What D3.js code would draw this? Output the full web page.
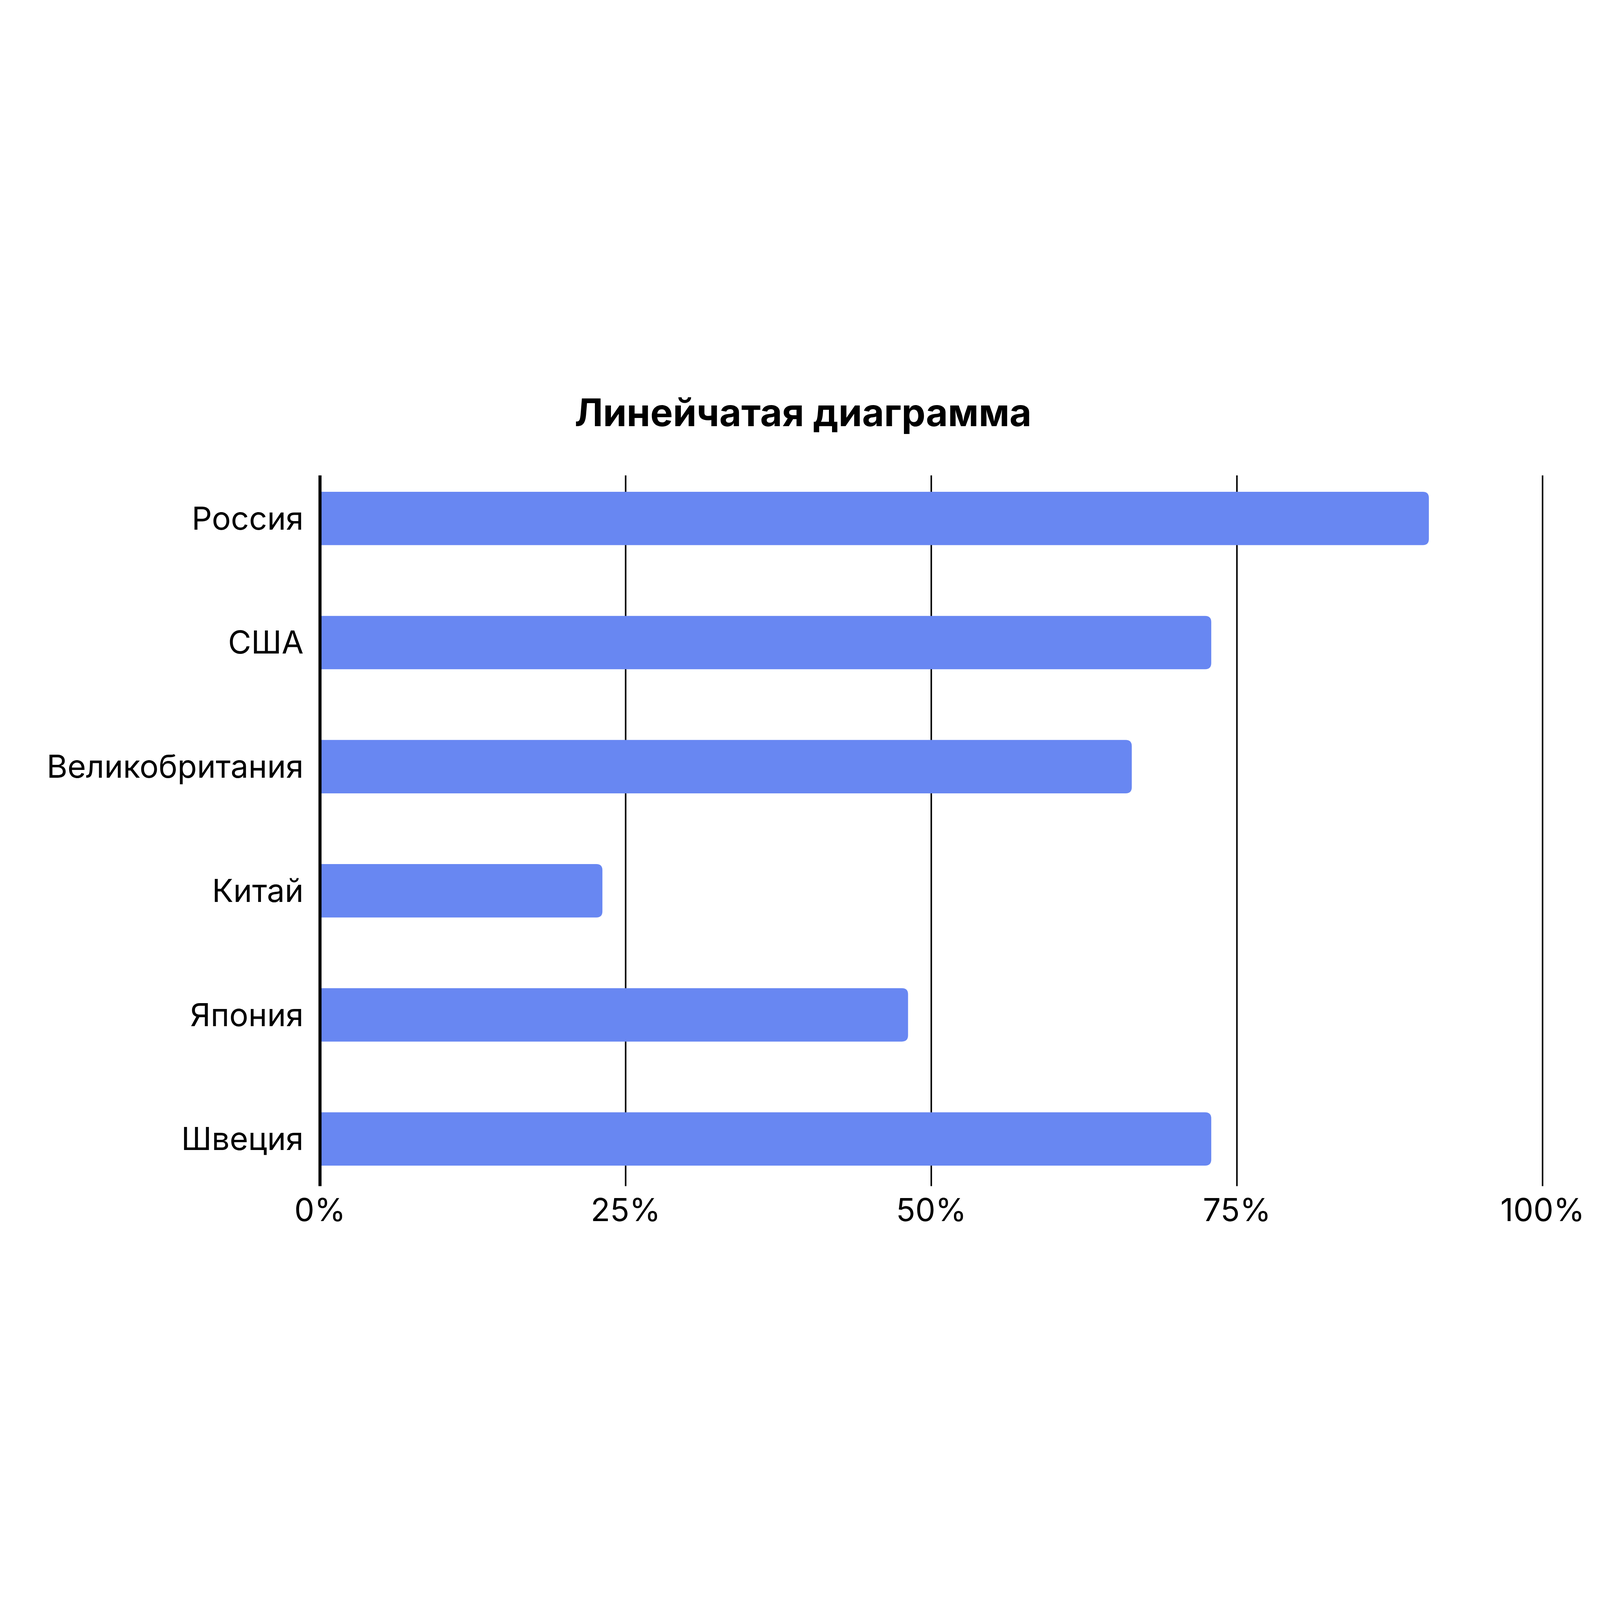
<!DOCTYPE html>
<html>
<head>
<meta charset="utf-8">
<script src="https://cdn.jsdelivr.net/npm/d3@7"></script>
<style>
  html, body { margin: 0; padding: 0; background: #fff; width: 100%; height: 100%; overflow: hidden; }
  svg { display: block; width: 100vw; height: 100vh; }
  text { font-family: Inter, "Noto Sans", sans-serif; }
</style>
</head>
<body>
<script>
const countries = ["Россия", "США", "Великобритания", "Китай", "Япония", "Швеция"];
const shares = [90.7, 72.9, 66.4, 23.1, 48.1, 72.9];
const ticks = [0, 25, 50, 75, 100];

const W = 1560, H = 877;
const svg = d3.select("body").append("svg")
    .attr("viewBox", `0 0 ${W} ${H}`)
    .attr("preserveAspectRatio", "xMidYMid meet");

const x = d3.scaleLinear().domain([0, 100]).range([312, 1504]);
const y = d3.scaleBand().domain(countries).range([103.5, 829.5]).paddingInner(0.57).paddingOuter(0.285);

svg.append("text")
    .attr("x", 783).attr("y", 74)
    .attr("text-anchor", "middle")
    .style("font-size", "37px").style("font-weight", 700)
    .text("Линейчатая диаграмма");

// grid
svg.append("g").selectAll("line")
  .data(ticks.slice(1))
  .enter().append("line")
    .attr("x1", (d) => x(d)).attr("x2", (d) => x(d))
    .attr("y1", 122).attr("y2", 815)
    .attr("stroke", "#000").attr("stroke-width", 1.5);

// bars, rounded on right end only
const r = 6;
svg.append("g").selectAll("path")
  .data(shares)
  .enter().append("path")
    .attr("fill", "#6887f2")
    .attr("d", (d, i) => {
      const x0 = x(0), x1 = x(d), y0 = y(countries[i]), h = y.bandwidth();
      return `M${x0},${y0}H${x1 - r}Q${x1},${y0} ${x1},${y0 + r}V${y0 + h - r}Q${x1},${y0 + h} ${x1 - r},${y0 + h}H${x0}Z`;
    });

// left axis
svg.append("line")
    .attr("x1", x(0)).attr("x2", x(0))
    .attr("y1", 122).attr("y2", 815)
    .attr("stroke", "#000").attr("stroke-width", 3);

svg.append("g").selectAll("text")
  .data(countries)
  .enter().append("text")
    .attr("x", 296)
    .attr("y", (d) => y(d) + y.bandwidth() / 2)
    .attr("dy", "0.35em")
    .attr("text-anchor", "end")
    .style("font-size", "31px")
    .text((d) => d);

svg.append("g").selectAll("text")
  .data(ticks)
  .enter().append("text")
    .attr("x", (d) => x(d))
    .attr("y", 849)
    .attr("text-anchor", "middle")
    .style("font-size", "31px")
    .text((d) => d + "%");
</script>
</body>
</html>
